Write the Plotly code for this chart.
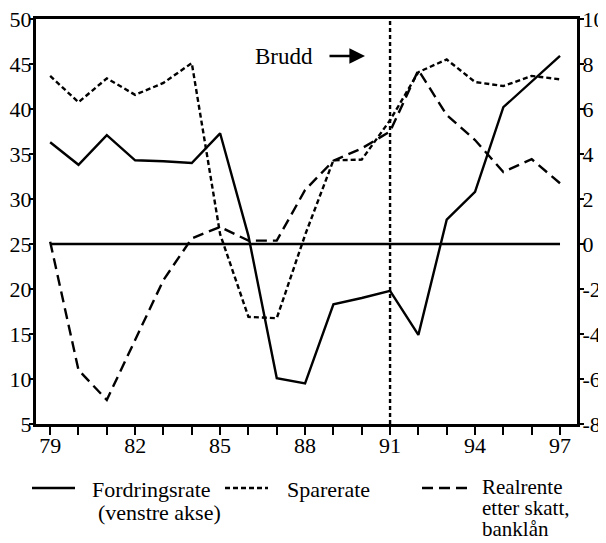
import plotly.graph_objects as go

# ---- data ----
years = list(range(79, 98))
fordringsrate = [36.3, 33.8, 37.1, 34.3, 34.2, 34.0, 37.3, 25.9, 10.1, 9.5,
                 18.3, 19.0, 19.8, 14.9, 27.7, 30.8, 40.2, 43.0, 45.9]
sparerate = [7.47, 6.3, 7.36, 6.63, 7.16, 8.04, 0.44, -3.24, -3.3, 0.4,
             3.72, 3.75, 5.5, 7.64, 8.2, 7.2, 7.02, 7.47, 7.32]
realrente = [0.1, -5.6, -6.93, -4.3, -1.6, 0.25, 0.76, 0.15, 0.15, 2.4,
             3.7, 4.25, 5.0, 7.73, 5.73, 4.62, 3.2, 3.77, 2.7]
x_tick_labels = ["79", "82", "85", "88", "91", "94", "97"]
left_ticks = [5, 10, 15, 20, 25, 30, 35, 40, 45, 50]
right_ticks = [-8, -6, -4, -2, 0, 2, 4, 6, 8, 10]
right_tick_labels = ["-8", "-6", "-4", "-2", "0", "2", "4", "6", "8", "10"]
left_range = [5, 50]
right_range = [-8, 10]
zero_line_left = 25      # right-axis 0 expressed on the left axis
break_year = 91

FONT = "Liberation Serif"
BLACK = "black"
LW = 2.4

# the page body has an 8px margin, so the figure is a little smaller
PAGE_OFF = 8
FIG_W, FIG_H = 606 - PAGE_OFF, 543 - PAGE_OFF
PLOT_L, PLOT_R, PLOT_T, PLOT_B = 36, 577, 19, 424   # wanted plot box, page pixels

fig = go.Figure()
fig.add_trace(go.Scatter(x=years, y=fordringsrate, mode="lines", name="Fordringsrate",
                         line=dict(color=BLACK, width=LW), yaxis="y", showlegend=False))
fig.add_trace(go.Scatter(x=years, y=sparerate, mode="lines", name="Sparerate",
                         line=dict(color=BLACK, width=LW, dash="5px,3px"), yaxis="y2",
                         showlegend=False))
fig.add_trace(go.Scatter(x=years, y=realrente, mode="lines", name="Realrente",
                         line=dict(color=BLACK, width=LW, dash="11px,6px"), yaxis="y2",
                         showlegend=False))

# horizontal zero line and the vertical break line
fig.add_shape(type="line", xref="x", yref="y", x0=years[0], x1=years[-1],
              y0=zero_line_left, y1=zero_line_left, line=dict(color=BLACK, width=LW))
fig.add_shape(type="line", xref="x", yref="paper", x0=break_year, x1=break_year,
              y0=0, y1=1, line=dict(color=BLACK, width=LW, dash="4px,3px"))


def px_x(p):
    return (p - PLOT_L) / float(PLOT_R - PLOT_L)


def px_y(p):
    return (PLOT_B - p) / float(PLOT_B - PLOT_T)


# "Brudd" with arrow
fig.add_annotation(text="Brudd", xref="paper", yref="paper", x=px_x(284), y=px_y(57),
                   xanchor="center", yanchor="middle", showarrow=False,
                   font=dict(family=FONT, size=23, color=BLACK))
fig.add_annotation(text="", xref="paper", yref="paper", x=px_x(365), y=px_y(56),
                   ax=-37, ay=0, showarrow=True, arrowhead=2, arrowsize=1.2,
                   arrowwidth=2.6, arrowcolor=BLACK)

# custom legend
legend_samples = [(32, 75, "solid"), (225, 268, "5px,3px"), (422, 467, "11px,6px")]
for x0, x1, d in legend_samples:
    fig.add_shape(type="line", xref="paper", yref="paper", x0=px_x(x0), x1=px_x(x1),
                  y0=px_y(488), y1=px_y(488), line=dict(color=BLACK, width=LW, dash=d))

legend_texts = [("Fordringsrate", 90, 489, 22), ("(venstre akse)", 96, 512, 22),
                ("Sparerate", 285, 489, 22), ("Realrente", 480, 487, 21),
                ("etter skatt,", 480, 508, 21), ("banklån", 480, 529, 21)]
for t, xp, yp, fs in legend_texts:
    fig.add_annotation(text=t, xref="paper", yref="paper", x=px_x(xp), y=px_y(yp),
                       xanchor="left", yanchor="middle", showarrow=False,
                       font=dict(family=FONT, size=fs, color=BLACK))

tick_font = dict(family=FONT, size=22, color=BLACK)
fig.update_layout(
    width=FIG_W, height=FIG_H,
    margin=dict(l=PLOT_L - PAGE_OFF, r=FIG_W - (PLOT_R - PAGE_OFF),
                t=PLOT_T - PAGE_OFF, b=FIG_H - (PLOT_B - PAGE_OFF), autoexpand=False),
    paper_bgcolor="white", plot_bgcolor="white",
    font=dict(family=FONT, color=BLACK),
    showlegend=False,
    xaxis=dict(range=[78.5, 97.6], tickmode="array", tickvals=[int(v) for v in x_tick_labels],
               ticktext=x_tick_labels, ticks="outside", ticklen=8, tickwidth=2,
               tickcolor=BLACK, showline=True, linewidth=3, linecolor=BLACK, mirror=True,
               showgrid=False, zeroline=False, tickfont=tick_font, automargin=False,
               ticklabelstandoff=-8, ticklabeloverflow="allow",
               minor=dict(tickmode="array", tickvals=years, ticks="outside", ticklen=8,
                          tickwidth=2, tickcolor=BLACK, showgrid=False)),
    yaxis=dict(range=left_range, tickmode="array", tickvals=left_ticks,
               ticktext=[str(v) for v in left_ticks], ticks="outside", ticklen=4,
               tickwidth=2, tickcolor=BLACK, showline=True, linewidth=3, linecolor=BLACK,
               showgrid=False, zeroline=False, tickfont=tick_font, automargin=False,
               ticklabelstandoff=-7, ticklabeloverflow="allow"),
    yaxis2=dict(range=right_range, tickmode="array", tickvals=right_ticks,
                ticktext=right_tick_labels, overlaying="y", side="right",
                ticks="outside", ticklen=4, tickwidth=2, tickcolor=BLACK, showline=True,
                linewidth=3, linecolor=BLACK, showgrid=False, zeroline=False,
                tickfont=tick_font, automargin=False,
                ticklabelstandoff=-6, ticklabeloverflow="allow"),
)

fig.write_html("out.html")
